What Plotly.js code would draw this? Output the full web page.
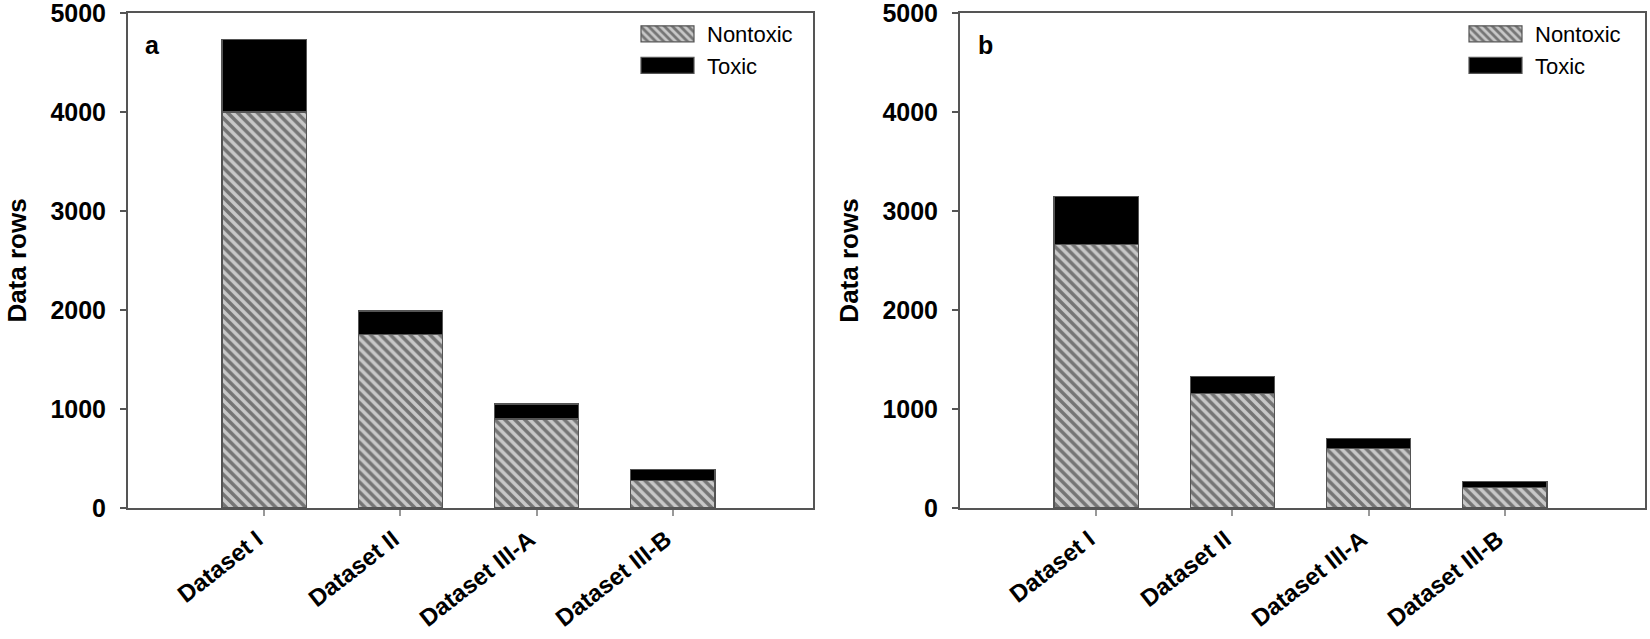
<!DOCTYPE html>
<html>
<head>
<meta charset="utf-8">
<script src="https://cdn.plot.ly/plotly-3.0.1.min.js"></script>
<style>html,body{margin:0;padding:0;background:#fff;}#chart{width:1650px;height:639px;}</style>
</head>
<body>
<div id="chart"></div>
<script>
const categories = ["Dataset I", "Dataset II", "Dataset III-A", "Dataset III-B"];
const nontoxicA = [4000, 1750, 900, 280];
const toxicA = [730, 240, 150, 110];
const nontoxicB = [2660, 1160, 600, 210];
const toxicB = [490, 170, 100, 60];
const yTicks = [0, 1000, 2000, 3000, 4000, 5000];

const FONT = "Liberation Sans, Arial, sans-serif";
const hatch = {shape: "\\", size: 7, solidity: 0.5, fgcolor: "#222", bgcolor: "#c8c8c8", fillmode: "overlay"};
const edge = {color: "#555", width: 1.2};

function nt(x, y, leg, xa, ya) {
  return {type: "bar", name: "Nontoxic", x: x, y: y, xaxis: xa, yaxis: ya, legend: leg, width: 0.62,
    marker: {color: "#c8c8c8", pattern: hatch, line: edge}};
}
function tx(x, y, leg, xa, ya) {
  return {type: "bar", name: "Toxic", x: x, y: y, xaxis: xa, yaxis: ya, legend: leg, width: 0.62,
    marker: {color: "#000", line: edge}};
}

const data = [
  nt(categories, nontoxicA, "legend", "x", "y"),
  tx(categories, toxicA, "legend", "x", "y"),
  nt(categories, nontoxicB, "legend2", "x2", "y2"),
  tx(categories, toxicB, "legend2", "x2", "y2")
];

const tickFont = {family: FONT, size: 24, color: "#000", weight: "bold"};
function xax(domain, anchor) {
  return {domain: domain, anchor: anchor, range: [-1, 4.03], type: "category",
    showline: true, mirror: true, linecolor: "#555", linewidth: 2,
    ticks: "outside", ticklen: 6, tickcolor: "#999", tickwidth: 2,
    tickangle: -38, tickfont: tickFont, ticklabelstandoff: 0, ticklabelshift: -7, ticklabeloverflow: "allow",
    showgrid: false, zeroline: false, fixedrange: true, automargin: false};
}
function yax(anchor) {
  return {domain: [0, 1], anchor: anchor, range: [0, 5000], tickvals: yTicks,
    showline: true, mirror: true, linecolor: "#555", linewidth: 2,
    ticks: "outside", ticklen: 6, tickcolor: "#555", tickwidth: 2,
    tickfont: {family: FONT, size: 25, color: "#000", weight: "bold"}, ticklabelstandoff: 9,
    ticklabeloverflow: "allow", showgrid: false, zeroline: false, automargin: false,
    title: {text: "Data rows", font: {family: FONT, size: 26, color: "#000", weight: "bold"}, standoff: 16}};
}
const legFont = {family: FONT, size: 22, color: "#000"};

const layout = {
  width: 1650, height: 639,
  margin: {l: 0, r: 0, t: 13, b: 131},
  paper_bgcolor: "#fff", plot_bgcolor: "#fff",
  barmode: "stack", showlegend: true,
  xaxis: xax([128/1650, 813/1650], "y"),
  yaxis: yax("x"),
  xaxis2: xax([960/1650, 1645/1650], "y2"),
  yaxis2: yax("x2"),
  legend: {x: 637/1650, xanchor: "left", y: 1.0, yanchor: "top", traceorder: "normal",
    font: legFont, bgcolor: "rgba(0,0,0,0)", itemwidth: 60, tracegroupgap: 0},
  legend2: {x: 1465/1650, xanchor: "left", y: 1.0, yanchor: "top", traceorder: "normal",
    font: legFont, bgcolor: "rgba(0,0,0,0)", itemwidth: 60, tracegroupgap: 0},
  annotations: [
    {text: "a", xref: "paper", yref: "paper", x: 143/1650, y: 0.935, xanchor: "left", yanchor: "middle",
     showarrow: false, font: {family: FONT, size: 25, color: "#000", weight: "bold"}},
    {text: "b", xref: "paper", yref: "paper", x: 976/1650, y: 0.935, xanchor: "left", yanchor: "middle",
     showarrow: false, font: {family: FONT, size: 25, color: "#000", weight: "bold"}}
  ]
};

Plotly.newPlot("chart", data, layout, {staticPlot: true, displayModeBar: false}).then(function (gd) {
  gd.querySelectorAll(".legendpoints path").forEach(function (p) {
    p.setAttribute("d", "M-31,8H22V-8H-31Z");
  });
});
</script>
</body>
</html>
